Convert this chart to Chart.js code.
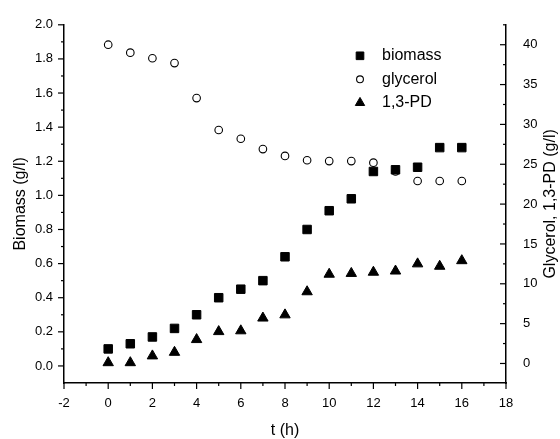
<!DOCTYPE html>
<html>
<head>
<meta charset="utf-8">
<script src="https://cdn.jsdelivr.net/npm/chart.js@4"></script>
<style>
  html, body { margin: 0; padding: 0; background: #fff; }
  #wrap { width: 560px; height: 439px; }
</style>
</head>
<body>
<div id="wrap"><canvas id="canvas" width="560" height="439"></canvas></div>
<script>
const hours = [0, 1, 2, 3, 4, 5, 6, 7, 8, 9, 10, 11, 12, 13, 14, 15, 16];
const biomass = [0.10, 0.13, 0.17, 0.22, 0.30, 0.40, 0.45, 0.50, 0.64, 0.80, 0.91, 0.98, 1.14, 1.15, 1.165, 1.28, 1.28];
const glycerol = [40.0, 39.0, 38.3, 37.7, 33.3, 29.3, 28.2, 26.9, 26.05, 25.5, 25.4, 25.4, 25.2, 24.1, 22.9, 22.9, 22.9];
const pd = [0.1, 0.1, 0.95, 1.4, 3.0, 4.0, 4.1, 5.7, 6.1, 9.0, 11.2, 11.3, 11.45, 11.6, 12.5, 12.2, 12.9];

const xTicks = [-2, 0, 2, 4, 6, 8, 10, 12, 14, 16, 18];
const leftTicks = [0, 0.2, 0.4, 0.6, 0.8, 1.0, 1.2, 1.4, 1.6, 1.8, 2.0];
const rightTicks = [0, 5, 10, 15, 20, 25, 30, 35, 40];
const rightTitle = "Glycerol, 1,3-PD (g/l)";

const FONT = "'Liberation Sans', Arial, Helvetica, sans-serif";

function pts(ys) {
  return hours.map((h, i) => ({ x: h, y: ys[i] }));
}

// small tick marks: major + minor ones (left/bottom outward, right inward)
const tickMarks = {
  id: "tickMarks",
  afterDraw(chart) {
    const ctx = chart.ctx;
    const { x, y, y1 } = chart.scales;
    ctx.save();
    ctx.strokeStyle = "#000";
    ctx.lineWidth = 1.2;
    const minors = (arr, max) => {
      const out = [];
      const step = arr[1] - arr[0];
      arr.forEach(v => { if (v + step / 2 <= max + 1e-9) out.push(v + step / 2); });
      return out;
    };
    const line = (x0, y0, x1, y1_) => {
      ctx.beginPath(); ctx.moveTo(x0, y0); ctx.lineTo(x1, y1_); ctx.stroke();
    };
    const bottom = chart.chartArea.bottom, left = chart.chartArea.left, right = chart.chartArea.right;
    xTicks.forEach(v => { const p = x.getPixelForValue(v); line(p, bottom, p, bottom + 6); });
    minors(xTicks, x.max).forEach(v => { const p = x.getPixelForValue(v); line(p, bottom, p, bottom + 3); });
    leftTicks.forEach(v => { const p = y.getPixelForValue(v); line(left, p, left - 6, p); });
    minors(leftTicks, y.max).forEach(v => { const p = y.getPixelForValue(v); line(left, p, left - 3, p); });
    rightTicks.forEach(v => { const p = y1.getPixelForValue(v); line(right, p, right - 6, p); });
    minors(rightTicks, y1.max).forEach(v => { const p = y1.getPixelForValue(v); line(right, p, right - 3, p); });

    // right axis title reads bottom-to-top like the left one
    const a = chart.chartArea;
    ctx.translate(550.5, (a.top + a.bottom) / 2);
    ctx.rotate(-Math.PI / 2);
    ctx.font = "16px " + FONT;
    ctx.fillStyle = "#000";
    ctx.textAlign = "center";
    ctx.textBaseline = "middle";
    ctx.fillText(rightTitle, 0, 0);
    ctx.restore();
  }
};

// legend drawn inside the plot area
const innerLegend = {
  id: "innerLegend",
  afterDraw(chart) {
    const ctx = chart.ctx;
    const a = chart.chartArea;
    ctx.save();
    ctx.font = "16px " + FONT;
    ctx.textBaseline = "middle";
    ctx.fillStyle = "#000";
    chart.data.datasets.forEach((ds, i) => {
      const mx = a.left + 296;
      const my = a.top + 31 + i * 23.5;
      ctx.fillStyle = ds.pointBackgroundColor;
      ctx.strokeStyle = ds.pointBorderColor;
      ctx.lineWidth = ds.pointBorderWidth;
      Chart.helpers.drawPoint(ctx, { pointStyle: ds.pointStyle, radius: ds.pointRadius * 0.9, borderWidth: ds.pointBorderWidth }, mx, my);
      ctx.fillStyle = "#000";
      ctx.fillText(ds.label, mx + 22, my);
    });
    ctx.restore();
  }
};

const data = {
  datasets: [
    {
      label: "biomass",
      data: pts(biomass),
      yAxisID: "y",
      pointStyle: "rect",
      pointRadius: 6,
      pointBackgroundColor: "#000",
      pointBorderColor: "#000",
      pointBorderWidth: 1,
      showLine: false,
    },
    {
      label: "glycerol",
      data: pts(glycerol),
      yAxisID: "y1",
      pointStyle: "circle",
      pointRadius: 3.8,
      pointBackgroundColor: "#fff",
      pointBorderColor: "#000",
      pointBorderWidth: 1.1,
      showLine: false,
    },
    {
      label: "1,3-PD",
      data: pts(pd),
      yAxisID: "y1",
      pointStyle: "triangle",
      pointRadius: 6,
      pointBackgroundColor: "#000",
      pointBorderColor: "#000",
      pointBorderWidth: 1,
      showLine: false,
    },
  ],
};

const tickFont = { family: FONT, size: 13 };
const titleFont = { family: FONT, size: 16, lineHeight: 1 };

const config = {
  type: "scatter",
  data: data,
  options: {
    responsive: false,
    animation: false,
    events: [],
    layout: { padding: { top: 21, left: 0, right: 0, bottom: 0 } },
    plugins: {
      legend: { display: false },
      tooltip: { enabled: false },
    },
    scales: {
      x: {
        type: "linear",
        min: -2,
        max: 18,
        afterBuildTicks: s => { s.ticks = xTicks.map(v => ({ value: v })); },
        afterFit: s => { s.height = 56; },
        grid: { display: false, drawTicks: false },
        border: { display: true, color: "#000", width: 1.5 },
        ticks: { color: "#000", font: tickFont, padding: 13, maxRotation: 0, autoSkip: false },
        title: { display: true, text: "t (h)", color: "#000", font: titleFont, padding: { top: 0, bottom: 0.5 } },
      },
      y: {
        type: "linear",
        position: "left",
        min: -0.1,
        max: 2.0,
        afterBuildTicks: s => { s.ticks = leftTicks.map(v => ({ value: v })); },
        afterFit: s => { s.width = 64; },
        grid: { display: false, drawTicks: false },
        border: { display: true, color: "#000", width: 1.5 },
        ticks: { color: "#000", font: tickFont, padding: 11, autoSkip: false, callback: v => v.toFixed(1) },
        title: { display: true, text: "Biomass (g/l)", color: "#000", font: titleFont, padding: { top: 13, bottom: 0 } },
      },
      y1: {
        type: "linear",
        position: "right",
        min: -2.45,
        max: 42.5,
        afterBuildTicks: s => { s.ticks = rightTicks.map(v => ({ value: v })); },
        afterFit: s => { s.width = 54; },
        grid: { display: false, drawTicks: false },
        border: { display: true, color: "#000", width: 1.5 },
        ticks: { color: "#000", font: tickFont, padding: 17, autoSkip: false },
        title: { display: false },
      },
    },
  },
  plugins: [tickMarks, innerLegend],
};

const canvas = document.getElementById("canvas");
const chart = new Chart(canvas, config);
</script>
</body>
</html>
